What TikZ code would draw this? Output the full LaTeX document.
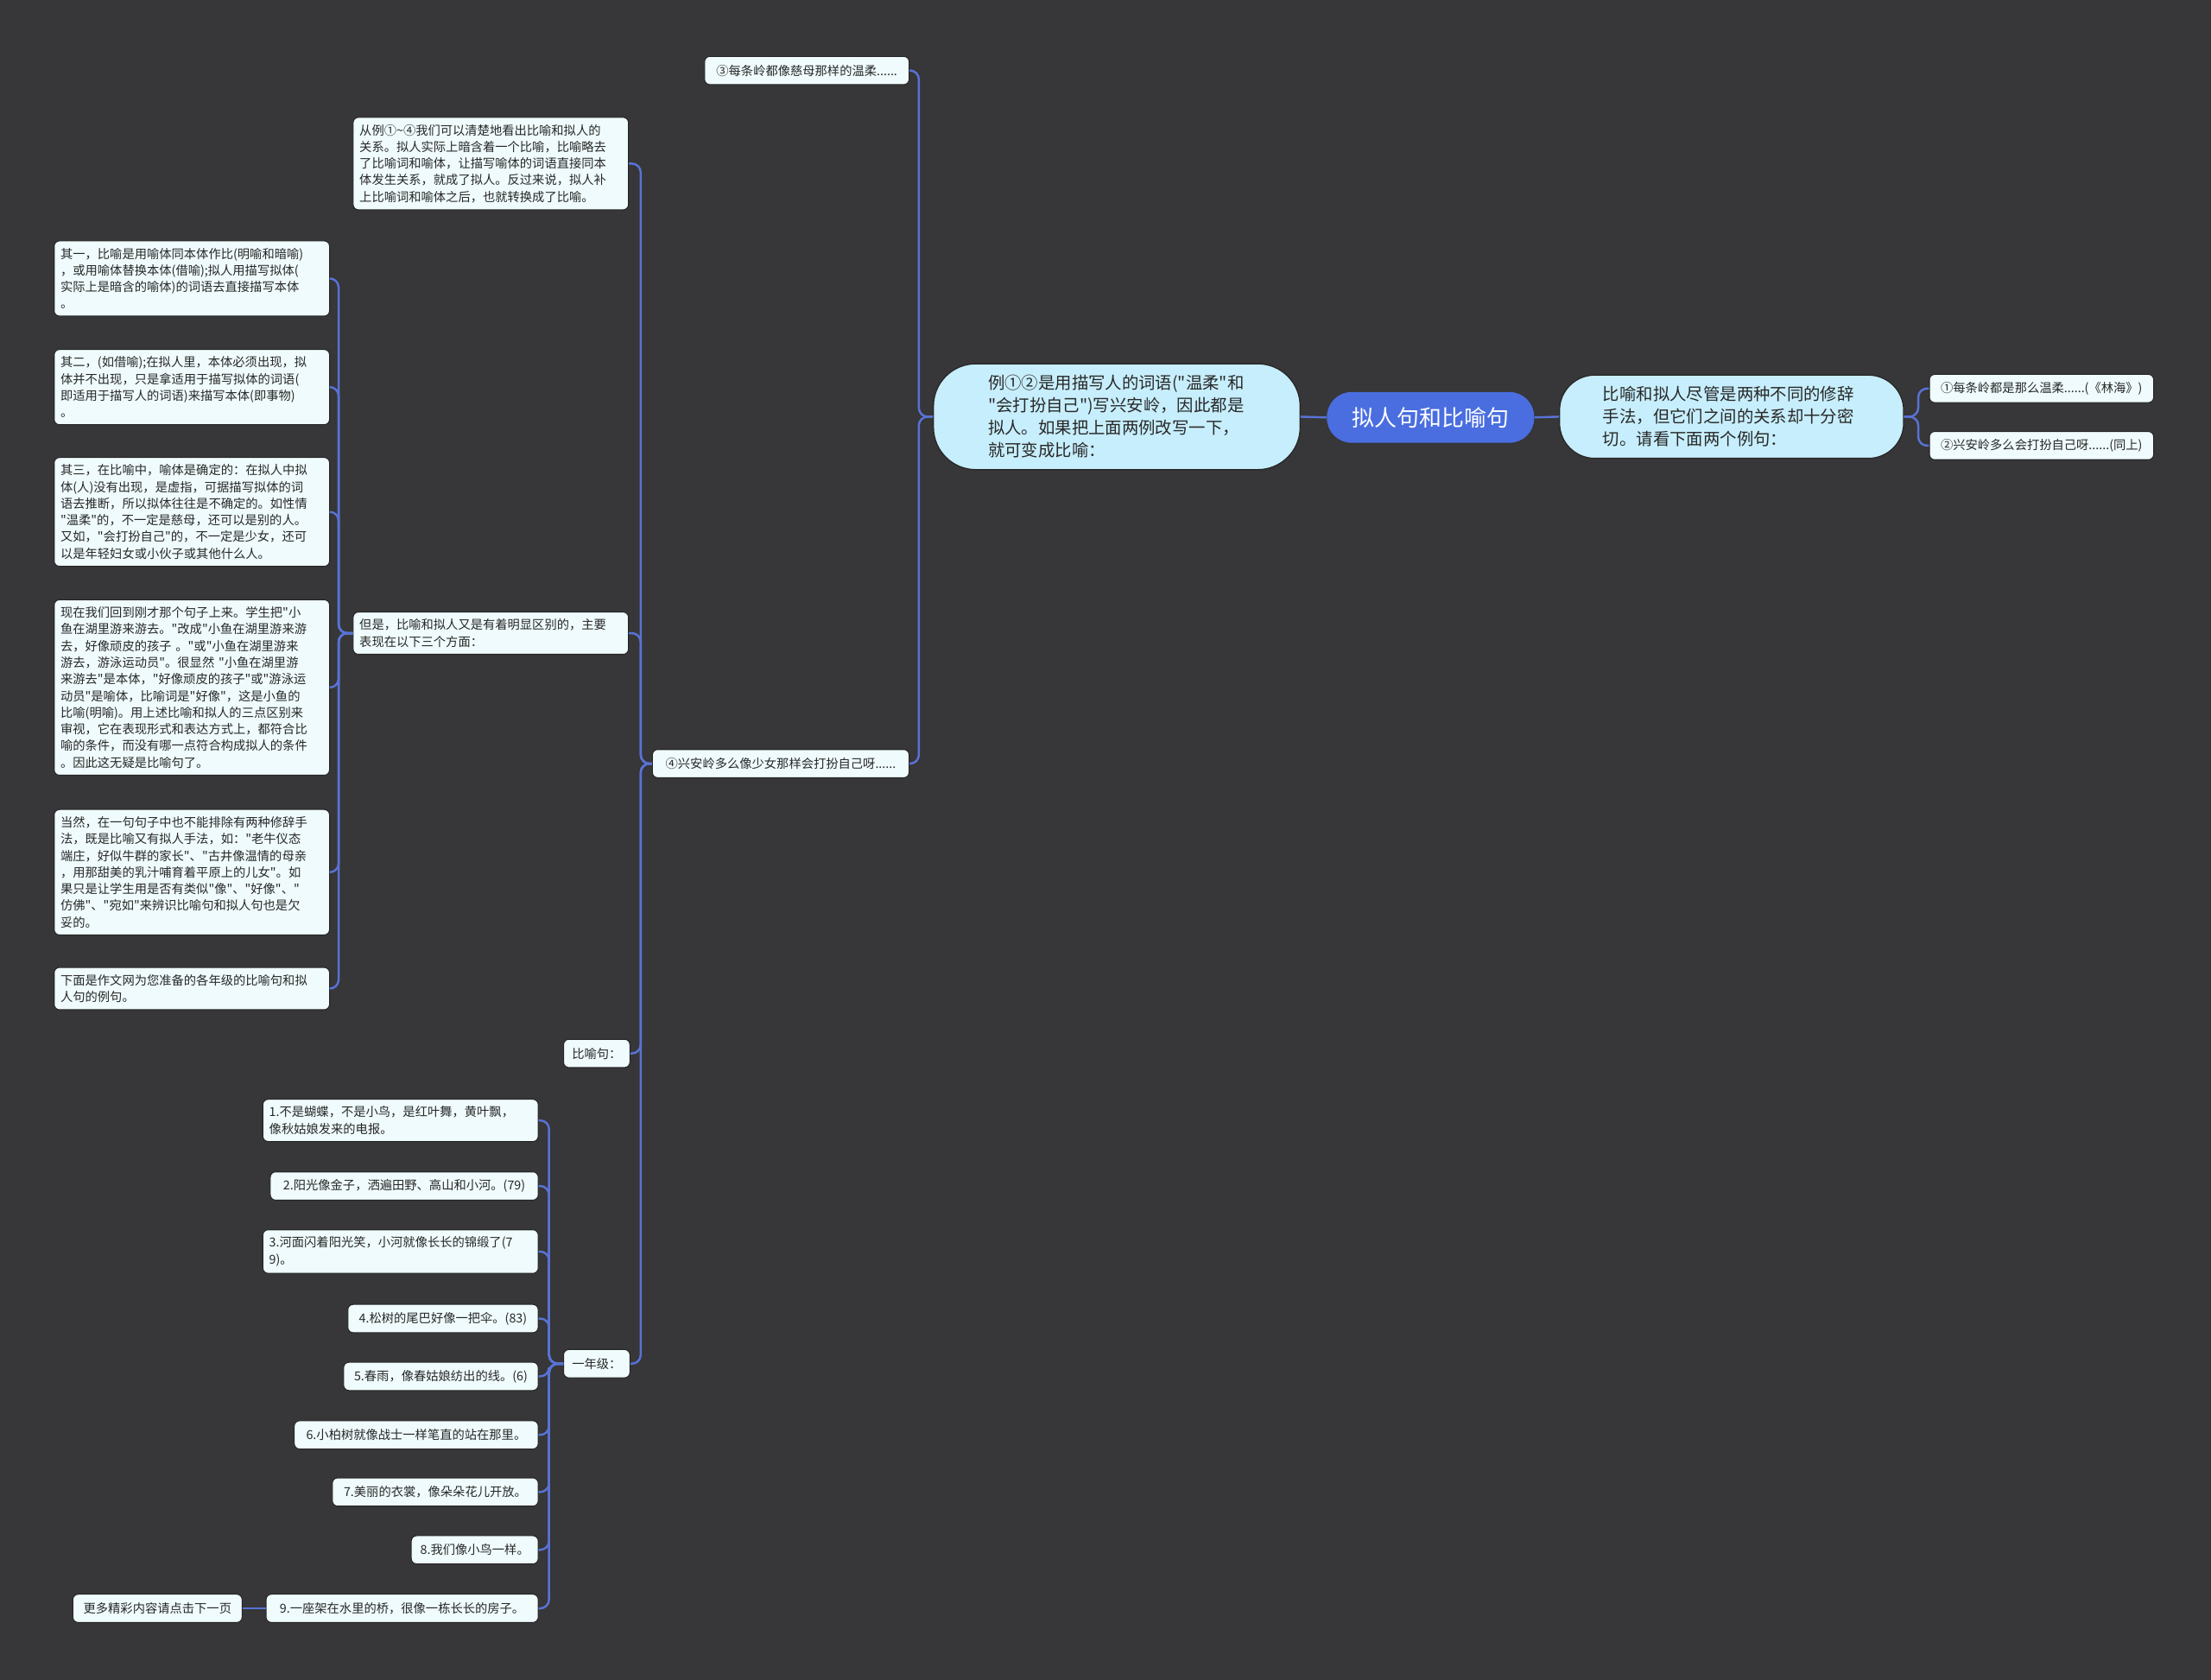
\documentclass[tikz,border=0pt]{standalone}
\usepackage{fontspec}
\setmainfont{Noto Sans CJK SC}[Ligatures=TeXOff]
\usepackage{xcolor}
\usetikzlibrary{positioning, calc}

\definecolor{bgdark}{RGB}{55,54,56}
\definecolor{linkblue}{RGB}{88,115,214}
\definecolor{rootblue}{RGB}{74,110,224}
\definecolor{mainfill}{RGB}{199,238,252}
\definecolor{leaffill}{RGB}{239,251,252}
\definecolor{textdark}{RGB}{40,40,40}

\begin{document}
\begin{tikzpicture}[
  x=0.8pt, y=-0.8pt,
  rootnode/.style={
    fill=rootblue, rounded corners=14pt, minimum width=117.6pt, minimum height=28.8pt,
    text=white, font=\fontsize{12.7}{15}\selectfont
  },
  mainnode/.style={
    draw=black!85, line width=0.6pt, fill=mainfill, text=textdark,
    align=left, text width=146pt, font=\fontsize{9.5}{12.8}\selectfont
  },
  leaf/.style={
    draw=black!85, line width=0.5pt, fill=leaffill, text=textdark, rounded corners=3pt,
    inner xsep=3.8pt, inner ysep=4pt, minimum height=16pt,
    font=\fontsize{7}{9.44}\selectfont
  },
  leafwide/.style={leaf, inner xsep=3.6pt, align=left, text width=149pt},
  link/.style={draw=linkblue, line width=1.2pt, rounded corners=5pt}
]

% Background and page size
\fill[bgdark] (0,0) rectangle (1568,1191);
\useasboundingbox (0,0) rectangle (1568,1191);

% Central topic and its two branches
\node[rootnode] (root) at (1014.5, 296) {拟人句和比喻句};
\node[mainnode, rounded corners=24pt, minimum width=208pt, minimum height=60pt] (ex12) at (792, 295.5)
  {例①②是用描写人的词语("温柔"和\\"会打扮自己")写兴安岭，因此都是\\拟人。如果把上面两例改写一下，\\就可变成比喻：};
\node[mainnode, rounded corners=20pt, minimum width=195.2pt, minimum height=47.2pt] (intro) at (1228, 295.5)
  {比喻和拟人尽管是两种不同的修辞\\手法，但它们之间的关系却十分密\\切。请看下面两个例句：};

% Right side examples
\node[leaf, anchor=west, minimum width=127.2pt] (s1) at (1368, 275.5) {①每条岭都是那么温柔......(《林海》)};
\node[leaf, anchor=west, minimum width=127.2pt] (s2) at (1368, 316) {②兴安岭多么会打扮自己呀......(同上)};

% Left side: rewritten examples
\node[leaf, anchor=east, minimum width=116pt] (ex3) at (645, 50) {③每条岭都像慈母那样的温柔......};
\node[leaf, anchor=east, minimum width=145.6pt] (ex4) at (645, 541.5) {④兴安岭多么像少女那样会打扮自己呀......};

% Explanations under example 4
\node[leafwide, anchor=east] (rel) at (446, 116)
  {从例①\textasciitilde④我们可以清楚地看出比喻和拟人的\\关系。拟人实际上暗含着一个比喻，比喻略去\\了比喻词和喻体，让描写喻体的词语直接同本\\体发生关系，就成了拟人。反过来说，拟人补\\上比喻词和喻体之后，也就转换成了比喻。};
\node[leafwide, anchor=east] (diff) at (446, 449)
  {但是，比喻和拟人又是有着明显区别的，主要\\表现在以下三个方面：};
\node[leaf, anchor=east, minimum width=37.6pt] (simile) at (447, 747) {比喻句：};
\node[leaf, anchor=east, minimum width=37.6pt] (grade1) at (447, 967) {一年级：};

% The three differences and remarks
\node[leafwide, anchor=east] (p1) at (234, 197.5)
  {其一，比喻是用喻体同本体作比(明喻和暗喻)\\，或用喻体替换本体(借喻);拟人用描写拟体(\\实际上是暗含的喻体)的词语去直接描写本体\\。};
\node[leafwide, anchor=east] (p2) at (234, 274.5)
  {其二，(如借喻);在拟人里，本体必须出现，拟\\体并不出现，只是拿适用于描写拟体的词语(\\即适用于描写人的词语)来描写本体(即事物)\\。};
\node[leafwide, anchor=east] (p3) at (234, 363)
  {其三，在比喻中，喻体是确定的：在拟人中拟\\体(人)没有出现，是虚指，可据描写拟体的词\\语去推断，所以拟体往往是不确定的。如性情\\"温柔"的，不一定是慈母，还可以是别的人。\\又如，"会打扮自己"的，不一定是少女，还可\\以是年轻妇女或小伙子或其他什么人。};
\node[leafwide, anchor=east] (p4) at (234, 487.5)
  {现在我们回到刚才那个句子上来。学生把"小\\鱼在湖里游来游去。"改成"小鱼在湖里游来游\\去，好像顽皮的孩子 。"或"小鱼在湖里游来\\游去，游泳运动员"。很显然 "小鱼在湖里游\\来游去"是本体，"好像顽皮的孩子"或"游泳运\\动员"是喻体，比喻词是"好像"，这是小鱼的\\比喻(明喻)。用上述比喻和拟人的三点区别来\\审视，它在表现形式和表达方式上，都符合比\\喻的条件，而没有哪一点符合构成拟人的条件\\。因此这无疑是比喻句了。};
\node[leafwide, anchor=east] (p5) at (234, 618.5)
  {当然，在一句句子中也不能排除有两种修辞手\\法，既是比喻又有拟人手法，如："老牛仪态\\端庄，好似牛群的家长"、"古井像温情的母亲\\，用那甜美的乳汁哺育着平原上的儿女"。如\\果只是让学生用是否有类似"像"、"好像"、"\\仿佛"、"宛如"来辨识比喻句和拟人句也是欠\\妥的。};
\node[leafwide, anchor=east] (p6) at (234, 701)
  {下面是作文网为您准备的各年级的比喻句和拟\\人句的例句。};

% First grade sentences
\node[leafwide, anchor=east] (g1) at (382, 794.5)
  {1.不是蝴蝶，不是小鸟，是红叶舞，黄叶飘，\\像秋姑娘发来的电报。};
\node[leaf, anchor=east, minimum width=152pt] (g2) at (382, 841) {2.阳光像金子，洒遍田野、高山和小河。(79)};
\node[leafwide, anchor=east] (g3) at (382, 887.5)
  {3.河面闪着阳光笑，小河就像长长的锦缎了(7\\9)。};
\node[leaf, anchor=east, minimum width=108pt] (g4) at (382, 935) {4.松树的尾巴好像一把伞。(83)};
\node[leaf, anchor=east, minimum width=110.4pt] (g5) at (382, 976) {5.春雨，像春姑娘纺出的线。(6)};
\node[leaf, anchor=east, minimum width=138.4pt] (g6) at (382, 1017.5) {6.小柏树就像战士一样笔直的站在那里。};
\node[leaf, anchor=east, minimum width=116.8pt] (g7) at (382, 1058) {7.美丽的衣裳，像朵朵花儿开放。};
\node[leaf, anchor=east, minimum width=72pt] (g8) at (382, 1099) {8.我们像小鸟一样。};
\node[leaf, anchor=east, minimum width=154.4pt] (g9) at (382, 1140.5) {9.一座架在水里的桥，很像一栋长长的房子。};
\node[leaf, anchor=east, minimum width=96pt] (more) at (172, 1140.5) {更多精彩内容请点击下一页};

% Connectors
\draw[link] (root.east) -- (intro.west);
\draw[link] (root.west) -- (ex12.east);
\foreach \c in {s1,s2}
  \draw[link] (intro.east) -- ++(10,0) |- (\c.west);
\foreach \c in {ex3,ex4}
  \draw[link] (ex12.west) -- ++(-10,0) |- (\c.east);
\foreach \c in {rel,diff,simile,grade1}
  \draw[link] (ex4.west) -- ++(-8,0) |- (\c.east);
\foreach \c in {p1,p2,p3,p4,p5,p6}
  \draw[link] (diff.west) -- ++(-10,0) |- (\c.east);
\foreach \c in {g1,g2,g3,g4,g5,g6,g7,g8,g9}
  \draw[link] (grade1.west) -- ++(-10,0) |- (\c.east);
\draw[link] (g9.west) -- (more.east);

\end{tikzpicture}
\end{document}
